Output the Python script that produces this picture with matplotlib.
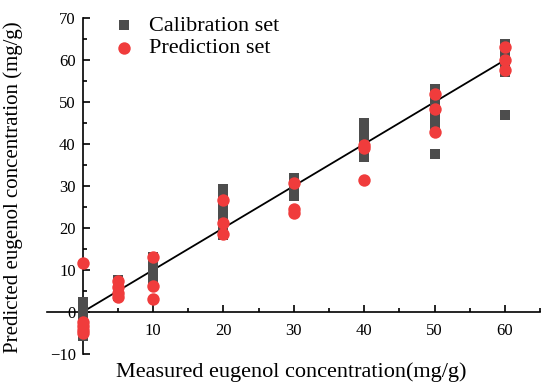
import numpy as np
import matplotlib
matplotlib.use("Agg")
import matplotlib.pyplot as plt
from matplotlib.ticker import MultipleLocator, FixedLocator

plt.rcParams['font.family'] = ['Liberation Serif', 'DejaVu Serif']

# calibration set (measured, predicted)
cal_x = [0, 0, 0, 0, 0, 0,
         5, 5, 5, 5,
         10, 10, 10, 10, 10, 10,
         20, 20, 20, 20, 20, 20, 20,
         30, 30, 30, 30,
         40, 40, 40, 40, 40, 40,
         50, 50, 50, 50, 50, 50, 50,
         60, 60, 60, 60, 60, 60]
cal_y = [2.5, 1.0, -1.5, -3.0, -4.5, -5.8,
         7.7, 6.5, 5.0, 3.8,
         13.0, 11.5, 10.0, 9.0, 8.0, 7.0,
         29.4, 27.5, 25.5, 24.0, 22.0, 19.5, 18.4,
         31.8, 30.3, 29.0, 27.5,
         45.1, 43.5, 41.6, 40.0, 38.5, 37.0,
         53.2, 51.5, 50.0, 48.0, 46.5, 44.0, 37.6,
         63.7, 62.5, 60.5, 59.0, 57.2, 47.0]

# prediction set
pred_x = [0, 0, 0, 0, 0,
          5, 5, 5, 5,
          10, 10, 10,
          20, 20, 20,
          30, 30, 30,
          40, 40, 40,
          50, 50, 50,
          60, 60, 60]
pred_y = [11.7, -2.3, -3.3, -4.3, -5.0,
          7.5, 6.0, 4.5, 3.6,
          13.0, 6.2, 3.2,
          26.7, 21.2, 18.6,
          30.6, 24.5, 23.6,
          39.8, 39.0, 31.4,
          51.9, 48.3, 42.9,
          63.1, 60.0, 57.6]

fit_x = [0, 60]

fig = plt.figure(figsize=(5.5, 3.91), dpi=100)
ax = fig.add_axes([0.0862, 0.0946, 0.896, 0.8594])

ax.plot(fit_x, fit_x, color='black', lw=1.3, zorder=2)
ax.scatter(cal_x, cal_y, marker='s', s=60, color='#4d4d4d', lw=0,
           label='Calibration set', zorder=3)
ax.scatter(pred_x, pred_y, marker='o', s=80, color='#f03c3c', lw=0,
           label='Prediction set', zorder=4)

ax.set_xlim(-5, 65)
ax.set_ylim(-10, 70)

ax.spines['left'].set_position(('data', 0))
ax.spines['bottom'].set_position(('data', 0))
ax.spines['top'].set_visible(False)
ax.spines['right'].set_visible(False)
for s in ('left', 'bottom'):
    ax.spines[s].set_linewidth(1.2)

ax.xaxis.set_major_locator(FixedLocator([10, 20, 30, 40, 50, 60]))
ax.xaxis.set_minor_locator(FixedLocator([5, 15, 25, 35, 45, 55, 65]))
ax.yaxis.set_major_locator(MultipleLocator(10))
ax.yaxis.set_minor_locator(MultipleLocator(5))
ax.tick_params(which='both', direction='in', width=1.2, labelsize=12)
ax.tick_params(which='major', length=5)
ax.tick_params(which='minor', length=3)
ax.tick_params(axis='x', pad=8)
ax.tick_params(axis='y', pad=5)

ax.set_xlabel('Measured eugenol concentration(mg/g)', fontsize=16)
ax.xaxis.set_label_coords(0.494, -0.025)
ax.set_ylabel('Predicted eugenol concentration (mg/g)', fontsize=15)
ax.yaxis.set_label_coords(-0.05, 0.497)

ax.legend(loc='upper left', bbox_to_anchor=(0.115, 1.035), frameon=False,
          fontsize=16, handletextpad=0.6, labelspacing=0.1,
          borderaxespad=0, handlelength=1.0)

fig.savefig('out.png', dpi=100)
